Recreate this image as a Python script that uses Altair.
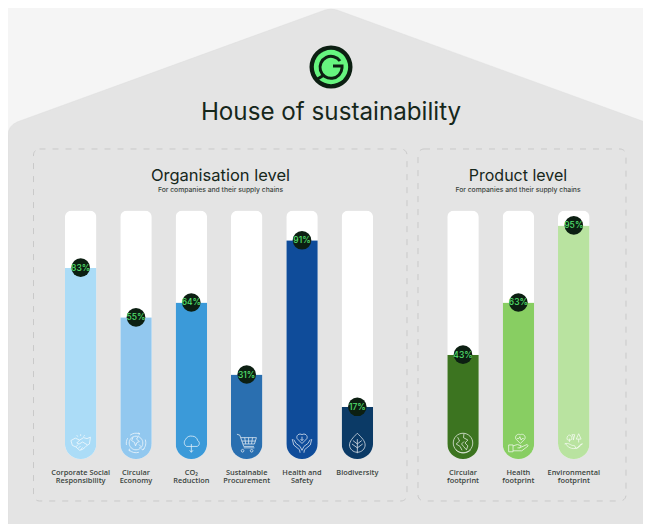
import altair as alt
import pandas as pd

# ---- values ----
org_labels = ["Corporate Social\nResponsibility", "Circular\nEconomy", "CO\u2082\nReduction",
              "Sustainable\nProcurement", "Health and\nSafety", "Biodiversity"]
org_badges = ["83%", "55%", "64%", "31%", "91%", "17%"]
org_levels = [77, 57, 63, 34, 88, 21]
org_colors = ["#abdcf7", "#92c8ef", "#3b9ad9", "#2a6fb0", "#0f4c9a", "#0b3a66"]

prod_labels = ["Circular\nfootprint", "Health\nfootprint", "Environmental\nfootprint"]
prod_badges = ["43%", "63%", "95%"]
prod_levels = [42, 63, 94]
prod_colors = ["#3c7420", "#88ce62", "#b9e3a0"]

# ---- icon outlines, unit-square SVG paths ----
C = "M-1 0A1 1 0 1 1 1 0A1 1 0 1 1 -1 0Z"
ic_hand = ("M-1 -.25L-.55 -.5L-.1 -.3L.3 -.55L.65 -.45L1 -.6M-1 -.25L-.85 .25L-.5 .4L-.1 .75L.2 .65L.45 .45L.7 .2L.9 .1L1 -.6"
           "M-.1 -.3L-.4 0L-.15 .1L.2 -.1L.7 .2M-.5 .4L-.25 .15M-.25 .55L0 .3M0 .7L.2 .45M0 -.9L0 -.72M-.4 -.8L-.3 -.65M.4 -.8L.3 -.65")
ic_globe = ("M-.7 0A.7 .7 0 1 1 .7 0A.7 .7 0 1 1 -.7 0Z"
            "M-.3 -.6L-.45 -.25L-.15 -.05L-.05 .3L.1 -.05L.35 -.15L.05 -.4L.2 -.62M.3 .15L.5 .35L.35 .5"
            "M-.6 -.8A1 1 0 0 1 .35 -.95M.25 -1.05L.4 -.95L.25 -.8M.95 -.35A1 1 0 0 1 .7 .7M.85 .55L.7 .72L.55 .6"
            "M.3 .95A1 1 0 0 1 -.7 .72M-.6 .58L-.75 .72L-.6 .85M-.98 .2A1 1 0 0 1 -.85 -.5")
ic_cloud = ("M-.5 .35A.45 .45 0 0 1 -.6 -.35A.6 .6 0 0 1 .1 -.7A.55 .55 0 0 1 .65 -.25A.33 .33 0 0 1 .6 .35Z"
            "M0 .1L0 .95M-.17 .75L0 .95L.17 .75")
ic_cart = ("M-1 -.9L-.7 -.8L-.3 .35L.75 .35M-.6 -.55L1 -.55L.8 .1L-.38 .1M-.2 -.55L-.1 .1M.2 -.55L.2 .1M.6 -.55L.5 .1M-.5 -.2L.9 -.2"
           "M-.3 .5L.8 .5M-.28 .8A.14 .14 0 1 1 -.28 .79M.65 .8A.14 .14 0 1 1 .65 .79")
ic_care = ("M0 .05L-.5 -.45A.33 .33 0 0 1 0 -.85A.33 .33 0 0 1 .5 -.45ZM0 -.65L0 -.25M-.15 -.4L0 -.25L.15 -.4"
           "M-1 -.4L-.85 .2L-.25 .7L-.2 1M-.85 -.35L-.6 .05L-.2 .35L0 .75M1 -.4L.85 .2L.25 .7L.2 1M.85 -.35L.6 .05L.2 .35L0 .75")
ic_leaf = ("M0 -1C.45 -.55 .8 -.2 .8 .2A.8 .75 0 0 1 -.8 .2C-.8 -.2 -.45 -.55 0 -1ZM0 -.4L0 1.05"
           "M0 .1L.45 -.25M0 .5L.55 .1M0 .1L-.45 -.25M0 .5L-.55 .1")
ic_earth = (C + "M-.55 -.6L-.35 -.2L-.7 .1L-.3 .35L-.1 .75M.1 -.95L.05 -.55L.5 -.3L.2 0L.5 .3L.35 .7L.05 .35L-.15 .1L.1 -.15"
            "M-.75 .7A1.1 1.1 0 0 0 .8 .7")
ic_hheart = ("M.2 .05L-.25 -.4A.33 .33 0 0 1 .2 -.85A.33 .33 0 0 1 .65 -.4Z M-.15 -.45L.05 -.45L.15 -.65L.28 -.3L.38 -.45L.55 -.45"
             "M-1 .2L-.55 .2L-.55 .9L-1 .9ZM-.55 .3L-.1 .15L.3 .3L.1 .5L-.1 .5M.1 .5L.9 .15L1 .3L.35 .8L-.55 .8")
ic_env = ("M-.85 .05A.95 .95 0 0 0 .85 .05M-.95 .1C-.5 -.1 -.3 .3 -.05 .25C.2 .2 .1 .6 .3 .55C.5 .5 .5 .1 .9 .1"
          "M-.45 -.1L-.45 -.45M-.7 -.4C-.7 -.95 -.2 -.95 -.2 -.4C-.2 -.25 -.7 -.25 -.7 -.4Z"
          "M.5 -.05L.5 -.4M.25 -.4L.5 -.95L.75 -.4Z M-.05 -.3L-.05 -.6L-.2 -.85L.1 -.85Z")
org_icons = [ic_hand, ic_globe, ic_cloud, ic_cart, ic_care, ic_leaf]
prod_icons = [ic_earth, ic_hheart, ic_env]

# ---- decorative logo G, in pixels around the logo centre ----
G_path = "M9 -6A11 11 0 1 0 11 1L11 -1L2 -1M-15 13L-7 8"

# ---- page geometry helpers (page px to plot px; the page adds an 8px margin) ----
PW, PH = 635, 516
def px(v):
    return alt.value(v - 8)

Y_TOP, Y_BOT = 210.5 - 8, 459 - 8
yscale = alt.Scale(domain=[0, 100], range=[Y_BOT, Y_TOP])
FONT = "Inter"
DARK = "#16271b"

def group(labels, badges, levels, colors, icons, rng):
    names = [l.replace("\n", " ") for l in labels]
    df = pd.DataFrame({"name": names, "label": labels, "badge": badges, "level": levels, "full": [100] * len(names)})
    x = alt.X("name:N", sort=names, axis=None,
              scale=alt.Scale(domain=names, range=rng, paddingInner=0.43, paddingOuter=0.215))
    y = alt.Y("level:Q", axis=None, scale=yscale)
    base = alt.Chart(df)
    track = base.mark_bar(color="white", cornerRadiusTopLeft=7, cornerRadiusTopRight=7,
                          cornerRadiusBottomLeft=15.5, cornerRadiusBottomRight=15.5).encode(
        x=x, y=alt.Y("full:Q", axis=None, scale=yscale))
    fill = base.mark_bar(cornerRadiusBottomLeft=15.5, cornerRadiusBottomRight=15.5).encode(
        x=x, y=y, color=alt.Color("name:N", legend=None, scale=alt.Scale(domain=names, range=colors)))
    icon = base.mark_point(filled=False, stroke="white", strokeWidth=0.8, opacity=0.85, size=380).encode(
        x=x, y=alt.value(443 - 8),
        shape=alt.Shape("name:N", legend=None, scale=alt.Scale(domain=names, range=icons)))
    badge = base.mark_point(filled=True, color="#0c1f12", opacity=1, size=345, shape="circle").encode(x=x, y=y)
    badge_text = base.mark_text(color="#55e06f", fontSize=8.5, font=FONT, fontWeight=500).encode(
        x=x, y=y, text="badge:N")
    text = base.mark_text(color="#3b453e", fontSize=7.4, font="Open Sans", fontWeight=600, lineBreak="\n",
                          baseline="alphabetic", lineHeight=8.6).encode(
        x=x, y=alt.value(474.5 - 8), text="label:N")
    return [track, fill, icon, badge, badge_text, text]

one = alt.Chart(pd.DataFrame({"k": [0]}))

house = one.mark_point(filled=True, fill="#e4e4e4", stroke="#dcdcdc", strokeWidth=0.4, opacity=1, size=4,
                       shape="M-6 1L-314 113Q-323 117 -323 126L-323 520L323 520L323 126Q323 117 314 113L6 1Q0 -1 -6 1Z").encode(
    x=px(331), y=px(9))
panel1 = one.mark_rect(filled=False, stroke="#c9c9c9", strokeWidth=1, strokeDash=[6, 7], cornerRadius=6).encode(
    x=px(33.5), x2=px(407), y=px(149), y2=px(501))
panel2 = one.mark_rect(filled=False, stroke="#c9c9c9", strokeWidth=1, strokeDash=[6, 7], cornerRadius=6).encode(
    x=px(418), x2=px(626), y=px(149), y2=px(501))

logo_outer = one.mark_point(filled=True, color="#0c1f12", opacity=1, size=1850, shape="circle").encode(x=px(331), y=px(67))
logo_inner = one.mark_point(filled=True, color="#66f57f", opacity=1, size=1180, shape="circle").encode(x=px(331), y=px(67))
logo_g = one.mark_point(filled=False, stroke="#0c1f12", strokeWidth=3, opacity=1, size=4, shape=G_path).encode(x=px(331), y=px(67))

def txt(s, x, y, size, weight=400, color=DARK):
    return alt.Chart(pd.DataFrame({"t": [s]})).mark_text(
        fontSize=size, font=FONT, fontWeight=weight, color=color, baseline="alphabetic").encode(
        x=px(x), y=px(y), text="t:N")

texts = [
    txt("House of sustainability", 331, 120, 24.2),
    txt("Organisation level", 220.5, 181, 16.5),
    txt("Product level", 518, 181, 16),
    txt("For companies and their supply chains", 220.5, 191.5, 6.8, 500, "#3b453e"),
    txt("For companies and their supply chains", 518, 191.5, 6.8, 500, "#3b453e"),
]

layers = [house, panel1, panel2, logo_outer, logo_inner, logo_g] + texts
layers += group(org_labels, org_badges, org_levels, org_colors, org_icons, [45.0, 377.0])
layers += group(prod_labels, prod_badges, prod_levels, prod_colors, prod_icons, [427.3, 593.5])

chart = alt.layer(*layers).resolve_scale(x="independent", color="independent", shape="independent").properties(
    width=PW, height=PH, padding=0, autosize=alt.AutoSizeParams(type="none"), background="#f5f5f5"
).configure_view(stroke=None)

chart.save("out.html", embed_options={"renderer": "svg", "actions": False})
